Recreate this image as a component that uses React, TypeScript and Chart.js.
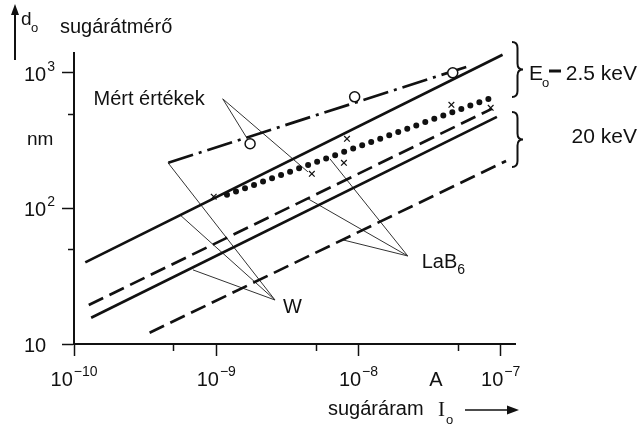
import React, { useEffect, useRef } from 'react';
import { Chart, registerables } from 'chart.js';

Chart.register(...registerables);

// ---- axes ----
const xMin = 1e-10;
const xMax = 1.26e-7;
const yMin = 10;
const yMax = 1400;
const xTickValues = [1e-10, 1e-9, 1e-8, 1e-7];
const xTickExponents = ['−10', '−9', '−8', '−7'];
const xMinorTicks = [5e-10, 5e-9, 5e-8];
const yTickValues = [10, 100, 1000];
const yTickExponents = ['', '2', '3'];
const yMinorTicks = [50, 500];
const xUnitValue = 3.5e-8;

// ---- series (beam current A, beam diameter nm) ----
const wHighX = [1.2e-10, 1.03e-7];
const wHighY = [40, 1360];
const lab6MeasX = [4.6e-10, 5.8e-8];
const lab6MeasY = [217, 1110];
const dottedX = [1.19e-9, 9.0e-8];
const dottedY = [126, 665];
const lab6HighDashX = [1.27e-10, 8.65e-8];
const lab6HighDashY = [19.4, 542];
const wLowX = [1.32e-10, 9.4e-8];
const wLowY = [15.6, 473];
const lab6LowDashX = [3.4e-10, 1.09e-7];
const lab6LowDashY = [12.1, 224];

// measured values
const circleX = [1.73e-9, 9.4e-9, 4.6e-8];
const circleY = [300, 665, 1000];
const crossX = [9.6e-10, 4.7e-9, 8.3e-9, 7.9e-9, 4.5e-8, 8.5e-8];
const crossY = [122, 180, 326, 217, 581, 552];

// annotation leaders: apex + targets
const merApex = [1.11e-9, 643];
const merTargetX = [1.64e-9, 4.41e-9];
const merTargetY = [331, 186];
const wApex = [2.59e-9, 21.1];
const wTargetX = [4.58e-10, 5.56e-10, 6.86e-10];
const wTargetY = [217, 89.6, 35.2];
const labApex = [2.22e-8, 44.6];
const labTargetX = [6.3e-9, 4.34e-9, 7.76e-9];
const labTargetY = [232, 119, 58.6];

const FONT = "'Liberation Sans', Arial, Helvetica, sans-serif";
const INK = '#111';

const pts = (xs: number[], ys: number[]) => xs.map((x, i) => ({ x, y: ys[i] }));

const lineDs = (xs: number[], ys: number[], extra: any = {}) => ({
  data: pts(xs, ys),
  showLine: true,
  borderColor: INK,
  borderWidth: 2.7,
  pointRadius: 0,
  fill: false,
  ...extra,
});

const leaderDs = (apex: number[], tx: number[], ty: number[]) =>
  tx.map((x, i) => ({
    data: [{ x: apex[0], y: apex[1] }, { x, y: ty[i] }],
    showLine: true,
    borderColor: '#333',
    borderWidth: 1,
    pointRadius: 0,
    fill: false,
  }));

function drawPow(ctx: CanvasRenderingContext2D, base: string, exp: string, x: number, baseline: number, align: 'center' | 'left') {
  ctx.textAlign = 'left';
  ctx.textBaseline = 'alphabetic';
  ctx.font = `20px ${FONT}`;
  const wb = ctx.measureText(base).width;
  ctx.font = `14px ${FONT}`;
  const we = exp ? ctx.measureText(exp).width + 1 : 0;
  const total = wb + we;
  const start = align === 'center' ? x - total / 2 : x;
  ctx.font = `20px ${FONT}`;
  ctx.fillText(base, start, baseline);
  if (exp) {
    ctx.font = `14px ${FONT}`;
    ctx.fillText(exp, start + wb + 1, baseline - 10);
  }
}

function brace(ctx: CanvasRenderingContext2D, x: number, y1: number, y2: number, w: number) {
  const mid = (y1 + y2) / 2;
  const xm = x + w * 0.5;
  const r = 6;
  ctx.beginPath();
  ctx.moveTo(x, y1);
  ctx.quadraticCurveTo(xm, y1, xm, y1 + r);
  ctx.lineTo(xm, mid - r);
  ctx.quadraticCurveTo(xm, mid, x + w, mid);
  ctx.quadraticCurveTo(xm, mid, xm, mid + r);
  ctx.lineTo(xm, y2 - r);
  ctx.quadraticCurveTo(xm, y2, x, y2);
  ctx.stroke();
}

const annotPlugin = {
  id: 'annot',
  afterDraw(chart: any) {
    const ctx: CanvasRenderingContext2D = chart.ctx;
    const xs = chart.scales.x;
    const ys = chart.scales.y;
    const a = chart.chartArea;
    ctx.save();
    ctx.strokeStyle = INK;
    ctx.fillStyle = INK;
    ctx.lineWidth = 1.5;

    // minor ticks
    xMinorTicks.forEach((v) => {
      const px = Math.round(xs.getPixelForValue(v)) + 0.5;
      ctx.beginPath();
      ctx.moveTo(px, a.bottom);
      ctx.lineTo(px, a.bottom + 7);
      ctx.stroke();
    });
    yMinorTicks.forEach((v) => {
      const py = Math.round(ys.getPixelForValue(v)) + 0.5;
      ctx.beginPath();
      ctx.moveTo(a.left - 6, py);
      ctx.lineTo(a.left, py);
      ctx.stroke();
    });

    // tick labels
    xTickValues.forEach((v, i) => drawPow(ctx, '10', xTickExponents[i], xs.getPixelForValue(v), a.bottom + 42, 'center'));
    yTickValues.forEach((v, i) => drawPow(ctx, '10', yTickExponents[i], a.left - 50, ys.getPixelForValue(v) + 8, 'left'));

    ctx.textBaseline = 'alphabetic';
    // unit labels
    ctx.font = `20px ${FONT}`;
    ctx.textAlign = 'center';
    ctx.fillText('A', xs.getPixelForValue(xUnitValue), a.bottom + 42);
    ctx.textAlign = 'left';
    ctx.font = `19px ${FONT}`;
    ctx.fillText('nm', a.left - 47, 145);

    // y title
    ctx.lineWidth = 2;
    ctx.beginPath();
    ctx.moveTo(15, 60);
    ctx.lineTo(15, 12);
    ctx.stroke();
    ctx.beginPath();
    ctx.moveTo(15, 4);
    ctx.lineTo(11, 15);
    ctx.lineTo(19, 15);
    ctx.closePath();
    ctx.fill();
    ctx.font = `19px ${FONT}`;
    ctx.fillText('d', 21, 25);
    ctx.font = `13px ${FONT}`;
    ctx.fillText('o', 31, 32);
    ctx.font = `20px ${FONT}`;
    ctx.fillText('sugárátmérő', 60, 33);

    // x title
    ctx.fillText('sugáráram', 328, 415);
    ctx.font = `21px 'Liberation Serif', 'Times New Roman', serif`;
    ctx.fillText('I', 438, 416);
    ctx.font = `13px ${FONT}`;
    ctx.fillText('o', 446, 424);
    ctx.lineWidth = 1.5;
    ctx.beginPath();
    ctx.moveTo(465, 410);
    ctx.lineTo(510, 410);
    ctx.stroke();
    ctx.beginPath();
    ctx.moveTo(519, 410);
    ctx.lineTo(507, 405.5);
    ctx.lineTo(507, 414.5);
    ctx.closePath();
    ctx.fill();

    // annotation labels
    const mx = xs.getPixelForValue(merApex[0]);
    const my = ys.getPixelForValue(merApex[1]);
    ctx.font = `20px ${FONT}`;
    ctx.textAlign = 'right';
    ctx.fillText('Mért értékek', mx - 18, my + 6);
    ctx.textAlign = 'left';
    const wx = xs.getPixelForValue(wApex[0]);
    const wy = ys.getPixelForValue(wApex[1]);
    ctx.fillText('W', wx + 8, wy + 13);
    const lx = xs.getPixelForValue(labApex[0]);
    const ly = ys.getPixelForValue(labApex[1]);
    ctx.fillText('LaB', lx + 14, ly + 12);
    const lw = ctx.measureText('LaB').width;
    ctx.font = `14px ${FONT}`;
    ctx.fillText('6', lx + 14 + lw, ly + 18);

    // braces and energy labels
    ctx.lineWidth = 2;
    brace(ctx, 512, 42, 97, 11);
    brace(ctx, 512, 112, 167, 11);
    ctx.font = `21px ${FONT}`;
    ctx.fillText('E', 529, 80);
    ctx.font = `13px ${FONT}`;
    ctx.fillText('o', 542, 87);
    ctx.lineWidth = 3;
    ctx.beginPath();
    ctx.moveTo(549, 71);
    ctx.lineTo(561, 71);
    ctx.stroke();
    ctx.font = `21px ${FONT}`;
    ctx.textAlign = 'right';
    ctx.fillText('2.5 keV', 637, 80);
    ctx.fillText('20 keV', 637, 143);

    ctx.restore();
  },
};

export default function App() {
  const ref = useRef<HTMLCanvasElement | null>(null);
  useEffect(() => {
    if (!ref.current) return;
    const datasets: any[] = [
      lineDs(wHighX, wHighY),
      lineDs(lab6MeasX, lab6MeasY, { borderDash: [26, 6, 3, 6] }),
      lineDs(dottedX, dottedY, { borderDash: [0, 9.6], borderWidth: 6, borderCapStyle: 'round' }),
      lineDs(lab6HighDashX, lab6HighDashY, { borderDash: [16, 7] }),
      lineDs(wLowX, wLowY),
      lineDs(lab6LowDashX, lab6LowDashY, { borderDash: [16, 7] }),
      ...leaderDs(merApex, merTargetX, merTargetY),
      ...leaderDs(wApex, wTargetX, wTargetY),
      ...leaderDs(labApex, labTargetX, labTargetY),
      {
        data: pts(circleX, circleY),
        showLine: false,
        pointStyle: 'circle',
        pointRadius: 5,
        pointBackgroundColor: '#fff',
        pointBorderColor: INK,
        pointBorderWidth: 1.5,
        order: -1,
      },
      {
        data: pts(crossX, crossY),
        showLine: false,
        pointStyle: 'crossRot',
        pointRadius: 4,
        pointBorderColor: INK,
        pointBorderWidth: 1.2,
        order: -1,
      },
    ];
    const axisCommon = {
      type: 'logarithmic' as const,
      bounds: 'data' as const,
      border: { display: true, color: INK, width: 2 },
      grid: { display: true, drawOnChartArea: false, drawTicks: true, tickLength: 12, tickWidth: 1.5, tickColor: INK },
      ticks: { display: false },
    };
    const chart = new Chart(ref.current, {
      type: 'scatter',
      data: { datasets },
      options: {
        animation: false,
        responsive: false,
        devicePixelRatio: 1,
        layout: { padding: { top: 53, right: 125, left: 0, bottom: 0 } },
        plugins: { legend: { display: false }, tooltip: { enabled: false } },
        scales: {
          x: {
            ...axisCommon,
            position: 'bottom',
            min: xMin,
            max: xMax,
            afterBuildTicks: (s: any) => {
              s.ticks = xTickValues.map((v) => ({ value: v }));
            },
            afterFit: (s: any) => {
              s.height = 82;
            },
          },
          y: {
            ...axisCommon,
            position: 'left',
            min: yMin,
            max: yMax,
            afterBuildTicks: (s: any) => {
              s.ticks = yTickValues.map((v) => ({ value: v }));
            },
            afterFit: (s: any) => {
              s.width = 74;
            },
          },
        },
      } as any,
      plugins: [annotPlugin],
    });
    return () => chart.destroy();
  }, []);
  return (
    <div style={{ position: 'absolute', left: 0, top: 0, width: 640, height: 426, background: '#fff' }}>
      <canvas ref={ref} width={640} height={426} />
    </div>
  );
}
